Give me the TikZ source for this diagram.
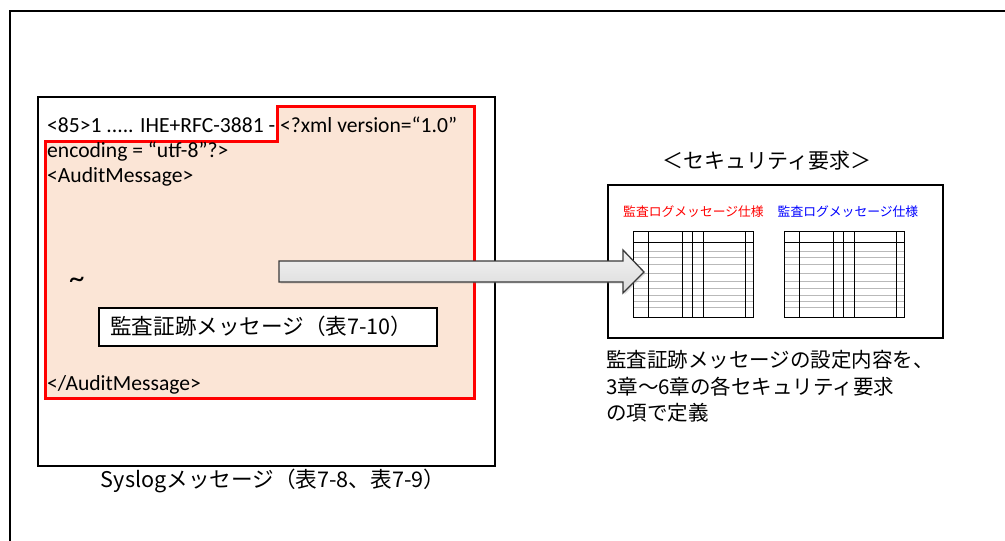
\documentclass[tikz,border=0pt]{standalone}
\usepackage{fontspec}
\setmainfont{Carlito}
\newfontfamily\jp{Noto Sans CJK JP}
\usetikzlibrary{shadows}
\definecolor{peach}{HTML}{FBE5D6}
\definecolor{arrowedge}{HTML}{3A3A3A}
\begin{document}
\begin{tikzpicture}[x=1pt,y=-1pt,
  boxframe/.style={draw=black,line width=1.6pt,inner sep=0pt},
  xmltext/.style={inner sep=0pt,anchor=west,font=\fontsize{21.6}{25}\selectfont},
  jptext/.style={inner sep=0pt,font=\jp\fontsize{20.5}{25}\selectfont},
  jpwide/.style={inner sep=0pt,font=\jp\fontsize{21.6}{25}\selectfont},
  speclabel/.style={inner sep=0pt,font=\jp\fontsize{12.8}{15}\selectfont},
  rowline/.style={draw=gray!55,line width=0.9pt},
  colline/.style={draw=black,line width=0.9pt},
  blockarrow/.style={draw=arrowedge,line width=1.3pt,top color=gray!10,bottom color=gray!28,
    drop shadow={opacity=0.25,shadow xshift=1.5pt,shadow yshift=-1.5pt}}
]
\useasboundingbox (0,0) rectangle (1005,541);
% outer frame (runs off the right and bottom edges)
\coordinate (frameBL) at (10,560);
\coordinate (frameTL) at (10,11);
\coordinate (frameTR) at (1020,11);
\draw[line width=1.2pt] (frameBL) -- (frameTL) -- (frameTR);

% Syslog box
\node[boxframe,fill=white,minimum width=457,minimum height=369,anchor=north west] (syslog) at (37,96) {};
% red XML region
\path[draw=red,line width=3pt,fill=peach,line join=miter]
  (45,141) -- (277,141) -- (277,106) -- (474,106) -- (474,398) -- (45,398) -- cycle;

\node[xmltext] (l1) at (47,125) {<85>1 ..... IHE+RFC-3881 - <?xml version=“1.0”};
\node[xmltext] (l2) at (47,152) {encoding = “utf-8”?>};
\node[xmltext] (l3) at (47,177) {<AuditMessage>};
\node[xmltext] (tilde) at (69,283) {\fontsize{31}{31}\selectfont \char"007E};
\node[xmltext] (l4) at (47,385) {</AuditMessage>};

\node[boxframe,fill=white,line width=1.8pt,minimum width=338,minimum height=38,anchor=north west] (audit) at (98,307) {};
\node[jpwide,anchor=west] (audittxt) at (110,326) {監査証跡メッセージ（表7-10）};

\node[jpwide] (syslabel) at (273,481) {Syslogメッセージ（表7-8、表7-9）};

% right side
\node[jptext,font=\jp\fontsize{21}{25}\selectfont] (sectitle) at (767,161) {＜セキュリティ要求＞};
\node[boxframe,fill=white,line width=2.4pt,minimum width=335,minimum height=153,anchor=north west] (secbox) at (607,184) {};
\node[speclabel,text=red] (specA) at (693.5,212) {監査ログメッセージ仕様};
\node[speclabel,text=blue] (specB) at (848,212) {監査ログメッセージ仕様};

\foreach \tx/\nm in {633/tblA,784/tblB}{
  \begin{scope}[shift={(\tx,231)}]
    \foreach \yy in {20,26.3,33.3,42.3,50,57.3,64,70.7,76.7}
      \draw[rowline] (0,\yy) -- (120,\yy);
    \foreach \xx in {15,49,59,70,112}
      \draw[colline] (\xx,0) -- (\xx,86);
    \draw[colline] (0,11) -- (120,11);
    \node[draw=black,line width=1.3pt,inner sep=0pt,minimum width=120,minimum height=86,anchor=north west] (\nm) at (0,0) {};
  \end{scope}
}

\node[jptext,anchor=west] (desc1) at (606,360) {監査証跡メッセージの設定内容を、};
\node[jptext,anchor=west] (desc2) at (606,387) {3章〜6章の各セキュリティ要求};
\node[jptext,anchor=west] (desc3) at (606,413) {の項で定義};

% block arrow from the XML region to the security requirements
\coordinate (arrS) at (279,271.5);
\coordinate (arrE) at (644,272);
\path[blockarrow] (279,261) -- (623,261) -- (623,250) -- (arrE) -- (623,293) -- (623,282) -- (279,282) -- cycle;
\end{tikzpicture}
\end{document}
